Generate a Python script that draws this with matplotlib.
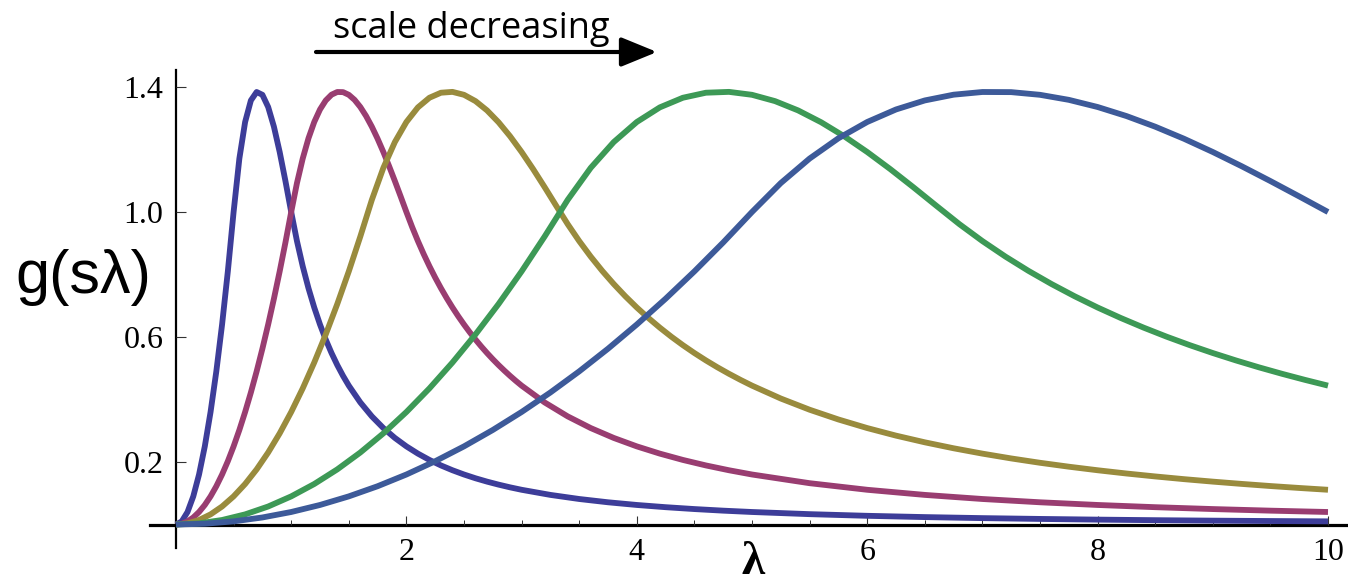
import matplotlib
matplotlib.use("Agg")
import numpy as np
import matplotlib.pyplot as plt
from matplotlib.ticker import FixedLocator, MultipleLocator

# ---- sampled curves (lambda positions and read-off g(s*lambda) values) ----
lam_1 = np.concatenate([np.linspace(0, 1.5, 31), np.linspace(1.6, 3.0, 15),
                        np.linspace(3.25, 5.0, 8), np.linspace(5.5, 10, 10)])
g_1 = [0, 0.01, 0.04, 0.09, 0.16, 0.25, 0.36, 0.49, 0.64, 0.81,
       1.0, 1.171, 1.288, 1.357, 1.384, 1.375, 1.336, 1.273, 1.192, 1.099,
       1.0, 0.9070, 0.8264, 0.7561, 0.6944, 0.64, 0.5917, 0.5487, 0.5102, 0.4756,
       0.4444,
       0.3906, 0.3460, 0.3086, 0.2770, 0.25, 0.2268, 0.2066, 0.1890, 0.1736, 0.16,
       0.1479, 0.1372, 0.1276, 0.1189, 0.1111,
       0.0947, 0.0816, 0.0711, 0.0625, 0.0554, 0.0494, 0.0443, 0.04,
       0.0331, 0.0278, 0.0237, 0.0204, 0.0178, 0.0156, 0.0138, 0.0123, 0.0111, 0.01]

lam_2 = np.concatenate([np.linspace(0, 3.0, 61), np.linspace(3.2, 5.0, 10),
                        np.linspace(5.5, 10, 10)])
g_2 = [0, 0.0025, 0.01, 0.0225, 0.04, 0.0625, 0.09, 0.1225, 0.16, 0.2025,
       0.25, 0.3025, 0.36, 0.4225, 0.49, 0.5625, 0.64, 0.7225, 0.81, 0.9025,
       1.0, 1.0926, 1.171, 1.2359, 1.288, 1.3281, 1.357, 1.3754, 1.384, 1.3836,
       1.375, 1.3589, 1.336, 1.3071, 1.273, 1.2344, 1.192, 1.1466, 1.099, 1.0499,
       1.0, 0.9518, 0.9070, 0.8653, 0.8264, 0.7901, 0.7561, 0.7243, 0.6944, 0.6664,
       0.64, 0.6151, 0.5917, 0.5696, 0.5487, 0.5289, 0.5102, 0.4925, 0.4756, 0.4596,
       0.4444,
       0.3906, 0.3460, 0.3086, 0.2770, 0.25, 0.2268, 0.2066, 0.1890, 0.1736, 0.16,
       0.1322, 0.1111, 0.0947, 0.0816, 0.0711, 0.0625, 0.0554, 0.0494, 0.0443, 0.04]

lam_3 = np.concatenate([np.linspace(0, 5.0, 51), np.linspace(5.25, 10, 20)])
g_3 = [0, 0.0036, 0.0144, 0.0324, 0.0576, 0.09, 0.1296, 0.1764, 0.2304, 0.2916,
       0.36, 0.4356, 0.5184, 0.6084, 0.7056, 0.81, 0.9216, 1.0388, 1.1413, 1.2239,
       1.288, 1.3348, 1.3656, 1.3817, 1.3844, 1.375, 1.3548, 1.3251, 1.2872, 1.2424,
       1.192, 1.1373, 1.0795, 1.0200, 0.9612, 0.9070, 0.8573, 0.8116, 0.7695, 0.7305,
       0.6944, 0.6610, 0.6299, 0.6009, 0.5739, 0.5487, 0.5251, 0.5030, 0.4823, 0.4628,
       0.4444,
       0.4031, 0.3673, 0.3361, 0.3086, 0.2844, 0.2630, 0.2439, 0.2268, 0.2114, 0.1975,
       0.1850, 0.1736, 0.1632, 0.1538, 0.1451, 0.1372, 0.1299, 0.1231, 0.1169, 0.1111]

lam_4 = np.linspace(0, 10, 51)
g_4 = [0, 0.0036, 0.0144, 0.0324, 0.0576, 0.09, 0.1296, 0.1764, 0.2304, 0.2916,
       0.36, 0.4356, 0.5184, 0.6084, 0.7056, 0.81, 0.9216, 1.0388, 1.1413, 1.2239,
       1.288, 1.3348, 1.3656, 1.3817, 1.3844, 1.375, 1.3548, 1.3251, 1.2872, 1.2424,
       1.192, 1.1373, 1.0795, 1.0200, 0.9612, 0.9070, 0.8573, 0.8116, 0.7695, 0.7305,
       0.6944, 0.6610, 0.6299, 0.6009, 0.5739, 0.5487, 0.5251, 0.5030, 0.4823, 0.4628,
       0.4444]

lam_5 = np.linspace(0, 10, 41)
g_5 = [0, 0.0025, 0.01, 0.0225, 0.04, 0.0625, 0.09, 0.1225, 0.16, 0.2025,
       0.25, 0.3025, 0.36, 0.4225, 0.49, 0.5625, 0.64, 0.7225, 0.81, 0.9025,
       1.0, 1.0926, 1.171, 1.2359, 1.288, 1.3281, 1.357, 1.3754, 1.384, 1.3836,
       1.375, 1.3589, 1.336, 1.3071, 1.273, 1.2344, 1.192, 1.1466, 1.099, 1.0499,
       1.0]

series = [(lam_1, g_1), (lam_2, g_2), (lam_3, g_3), (lam_4, g_4), (lam_5, g_5)]
colors = ["#3d3d99", "#993d71", "#998b3d", "#3d9956", "#3d5a99"]

xticks = [2, 4, 6, 8, 10]
xtick_labels = ["2", "4", "6", "8", "10"]
yticks = [0.2, 0.6, 1.0, 1.4]
ytick_labels = ["0.2", "0.6", "1.0", "1.4"]

W, H = 1348, 585
fig = plt.figure(figsize=(W / 100, H / 100), dpi=100)
ax = fig.add_axes([150 / W, (H - 548) / H, 1198 / W, 478 / H])

for (x, y), c in zip(series, colors):
    ax.plot(x, y, color=c, lw=4.2, solid_capstyle="butt", solid_joinstyle="round")

ax.set_xlim((150 - 176) / 115.2, (1348 - 176) / 115.2)
ax.set_ylim((524.5 - 548) / 312.5, (524.5 - 70) / 312.5)

for s in ["top", "right"]:
    ax.spines[s].set_visible(False)
ax.spines["left"].set_position(("data", 0))
ax.spines["bottom"].set_position(("data", 0))
ax.spines["left"].set_linewidth(1.6)
ax.spines["bottom"].set_linewidth(2.3)
ax.spines["left"].set_zorder(0.5)
ax.spines["bottom"].set_zorder(0.5)

tickfont = dict(family="Liberation Serif", size=23)
ax.xaxis.set_major_locator(FixedLocator(xticks))
ax.set_xticklabels(xtick_labels, fontdict=tickfont)
ax.xaxis.set_minor_locator(MultipleLocator(0.5))
ax.yaxis.set_major_locator(FixedLocator(yticks))
ax.set_yticklabels(ytick_labels, fontdict=tickfont)
ax.tick_params(axis="x", which="major", direction="in", length=6.5, width=0.8, pad=10, color="#333333")
ax.tick_params(axis="x", which="minor", direction="in", length=3.3, width=0.7, color="#333333")
ax.tick_params(axis="y", which="major", direction="in", length=7.5, width=0.8, pad=9, color="#333333")

fig.text(15 / W, (H - 293) / H, "g(sλ)", family="Liberation Sans", fontsize=44,
         ha="left", va="baseline")
fig.text(753 / W, 1 / H, "λ", family=["Liberation Serif", "DejaVu Serif"],
         fontweight="bold", fontsize=34, ha="center", va="bottom")

fig.text(333 / W, (H - 38) / H, "scale decreasing", family="Open Sans", fontsize=26,
         ha="left", va="baseline")
ax.annotate("", xy=(657, H - 52), xytext=(316, H - 52),
            xycoords="figure pixels", textcoords="figure pixels",
            arrowprops=dict(arrowstyle="-|>,head_length=1.1,head_width=0.45",
                            mutation_scale=20, lw=3, color="black",
                            shrinkA=0, shrinkB=0))

fig.savefig("out.png", dpi=100)
